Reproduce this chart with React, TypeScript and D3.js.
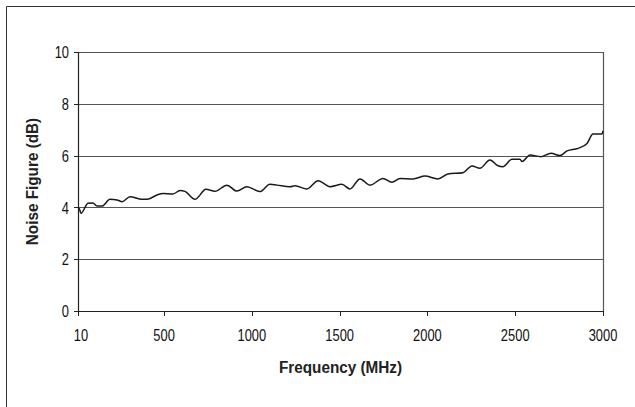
import React from "react";
import * as d3 from "d3";

const freqMHz = [10, 16, 27, 67, 95, 118, 147, 192, 232, 261, 306, 374, 403, 460, 494, 551, 591, 619, 676, 739, 790, 858, 915, 972, 1046, 1103, 1143, 1217, 1246, 1314, 1377, 1445, 1513, 1559, 1616, 1673, 1747, 1798, 1844, 1918, 1986, 2060, 2117, 2203, 2254, 2299, 2356, 2402, 2430, 2481, 2527, 2539, 2584, 2647, 2704, 2755, 2795, 2858, 2909, 2943, 2994, 3000];
const noiseFigureDb = [3.98, 3.97, 3.77, 4.16, 4.17, 4.05, 4.05, 4.31, 4.29, 4.22, 4.41, 4.31, 4.31, 4.48, 4.54, 4.52, 4.65, 4.62, 4.31, 4.7, 4.62, 4.86, 4.63, 4.8, 4.61, 4.89, 4.86, 4.8, 4.84, 4.71, 5.03, 4.8, 4.89, 4.71, 5.1, 4.86, 5.12, 4.97, 5.12, 5.1, 5.21, 5.1, 5.29, 5.34, 5.6, 5.51, 5.83, 5.61, 5.57, 5.86, 5.86, 5.77, 6.02, 5.96, 6.09, 6.0, 6.18, 6.28, 6.47, 6.83, 6.83, 6.95];
const xTicks = [10, 500, 1000, 1500, 2000, 2500, 3000];
const yTicks = [0, 2, 4, 6, 8, 10];
const xTitle = "Frequency (MHz)";
const yTitle = "Noise Figure (dB)";

const W = 635, H = 407;
const L = 78, R = 603, T = 52, B = 311;
const FONT = "'Liberation Sans', Arial, sans-serif";
const TICK_SX = 0.76;
const TITLE_SX = 0.9;

export default function App() {
  const x = d3.scaleLinear().domain([10, 3000]).range([L, R]);
  const y = d3.scaleLinear().domain([0, 10]).range([B, T]);
  const pts = freqMHz.map((f, i) => [f, noiseFigureDb[i]] as [number, number]);
  const line = d3.line<[number, number]>().x(d => x(d[0])).y(d => y(d[1])).curve(d3.curveMonotoneX);
  return (
    <svg width={W} height={H} style={{ position: "absolute", left: 0, top: 0 }} fontFamily={FONT}>
      <rect x={0} y={0} width={W} height={H} fill="#fff" />
      <line x1={6.5} y1={6.5} x2={W} y2={6.5} stroke="#333" />
      <line x1={6.5} y1={6.5} x2={6.5} y2={H} stroke="#333" />
      {yTicks.filter(t => t > 0).map(t => (
        <line key={t} x1={L} x2={R} y1={Math.round(y(t)) + 0.5} y2={Math.round(y(t)) + 0.5} stroke="#555" strokeWidth={1.2} />
      ))}
      <line x1={R + 0.5} x2={R + 0.5} y1={T} y2={B} stroke="#555" strokeWidth={1.2} />
      <line x1={L + 0.5} x2={L + 0.5} y1={T} y2={B + 1} stroke="#222" strokeWidth={1.2} />
      <line x1={L} x2={R} y1={B + 0.5} y2={B + 0.5} stroke="#222" strokeWidth={1.2} />
      {yTicks.map(t => (
        <g key={t}>
          <line x1={L - 4} x2={L} y1={Math.round(y(t)) + 0.5} y2={Math.round(y(t)) + 0.5} stroke="#222" />
          <text transform={`translate(${L - 9},${y(t)}) scale(${TICK_SX},1)`} dy="0.36em" textAnchor="end" fontSize={17} fill="#111">{t}</text>
        </g>
      ))}
      {xTicks.map(t => (
        <g key={t}>
          <line x1={Math.round(x(t)) + 0.5} x2={Math.round(x(t)) + 0.5} y1={B} y2={B + 5} stroke="#222" />
          <text transform={`translate(${x(t) + (t === 10 ? 3 : 0)},${B + 24}) scale(${TICK_SX},1)`} dy="0.36em" textAnchor="middle" fontSize={17} fill="#111">{t}</text>
        </g>
      ))}
      <path d={line(pts) || ""} fill="none" stroke="#1a1a1a" strokeWidth={1.5} />
      <text transform={`translate(${(L + R) / 2},367) scale(${TITLE_SX},1)`} dy="0.36em" textAnchor="middle" fontSize={17} fontWeight="bold" fill="#222">{xTitle}</text>
      <text transform={`translate(32,${(T + B) / 2}) rotate(-90) scale(${TITLE_SX},1)`} dy="0.36em" textAnchor="middle" fontSize={17} fontWeight="bold" fill="#222">{yTitle}</text>
    </svg>
  );
}
